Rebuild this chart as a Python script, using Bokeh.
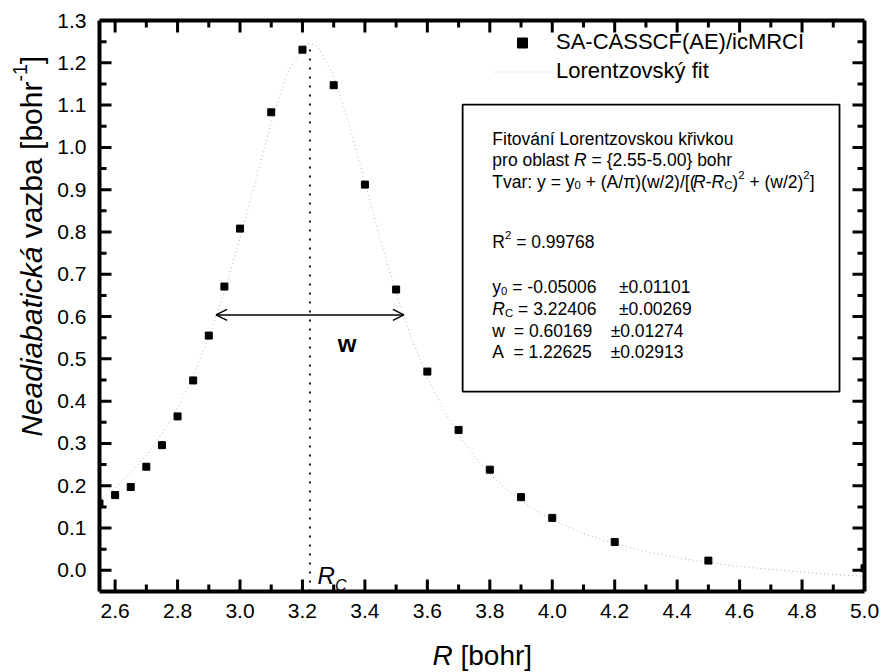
from math import pi
from bokeh.plotting import figure
from bokeh.layouts import row, column
from bokeh.models import (Range1d, FixedTicker, NumeralTickFormatter, LinearAxis, Label,
                          Legend, LegendItem, Arrow, OpenHead, BoxAnnotation)
from bokeh.embed import file_html
from bokeh.resources import INLINE

# ---------------- data ----------------
R_points = [2.55, 2.60, 2.65, 2.70, 2.75, 2.80, 2.85, 2.90, 2.95, 3.00, 3.10, 3.20,
            3.30, 3.40, 3.50, 3.60, 3.70, 3.80, 3.90, 4.00, 4.20, 4.50, 5.00]
nac_points = [0.158, 0.178, 0.197, 0.245, 0.296, 0.364, 0.449, 0.555, 0.671, 0.808, 1.083, 1.231,
              1.147, 0.912, 0.664, 0.470, 0.332, 0.238, 0.173, 0.124, 0.067, 0.023, 0.005]

R_fit = [2.55, 2.60, 2.65, 2.70, 2.75, 2.80, 2.85, 2.90, 2.95, 3.00, 3.05, 3.10, 3.15, 3.20,
         3.224, 3.25, 3.30, 3.35, 3.40, 3.45, 3.50, 3.55, 3.60, 3.65, 3.70, 3.75, 3.80, 3.85,
         3.90, 3.95, 4.00, 4.10, 4.20, 4.30, 4.40, 4.50, 4.60, 4.70, 4.80, 4.90, 5.00]
nac_fit = [0.166, 0.195, 0.230, 0.272, 0.323, 0.384, 0.460, 0.551, 0.659, 0.785, 0.922, 1.059,
           1.173, 1.239, 1.247, 1.238, 1.170, 1.054, 0.917, 0.780, 0.655, 0.547, 0.457, 0.382,
           0.320, 0.270, 0.228, 0.193, 0.165, 0.140, 0.120, 0.087, 0.063, 0.044, 0.030, 0.018,
           0.009, 0.002, -0.004, -0.010, -0.014]

x_ticks = [2.6, 2.8, 3.0, 3.2, 3.4, 3.6, 3.8, 4.0, 4.2, 4.4, 4.6, 4.8, 5.0]
x_minor = [2.7, 2.9, 3.1, 3.3, 3.5, 3.7, 3.9, 4.1, 4.3, 4.5, 4.7, 4.9]
y_ticks = [0.0, 0.1, 0.2, 0.3, 0.4, 0.5, 0.6, 0.7, 0.8, 0.9, 1.0, 1.1, 1.2, 1.3]
y_minor = [0.05, 0.15, 0.25, 0.35, 0.45, 0.55, 0.65, 0.75, 0.85, 0.95, 1.05, 1.15, 1.25]

series_name = "SA-CASSCF(AE)/icMRCI"
fit_name = "Lorentzovský fit"

rc = 3.22406          # R_C of the fit
fwhm = 0.60169        # w of the fit
rc_line_top = 1.24    # top of the dotted R_C line
arrow_y = 0.604       # height of the w arrow

fit_r2 = "0.99768"
fit_y0, fit_y0_err = "-0.05006", "±0.01101"
fit_rc, fit_rc_err = "3.22406", "±0.00269"
fit_w, fit_w_err = "0.60169", "±0.01274"
fit_A, fit_A_err = "1.22625", "±0.02913"

# ---------------- layout helpers ----------------
FONT = "Liberation Sans"
CW = {' ': 278, '!': 278, '(': 333, ')': 333, '+': 584, ',': 278, '-': 333, '.': 278, '/': 278,
      ':': 278, '=': 584, '[': 278, ']': 278, '{': 334, '}': 334, '±': 549, 'π': 550,
      'A': 667, 'C': 722, 'E': 667, 'F': 611, 'I': 278, 'L': 556, 'M': 833, 'N': 722, 'R': 722,
      'S': 667, 'T': 611, 'a': 556, 'b': 556, 'c': 500, 'd': 556, 'e': 556, 'f': 278, 'h': 556,
      'i': 222, 'k': 500, 'l': 222, 'n': 556, 'o': 556, 'p': 556, 'r': 333, 's': 500, 't': 278,
      'u': 556, 'v': 500, 'w': 722, 'y': 500, 'z': 500, 'á': 556, 'í': 278, 'ř': 333, 'ý': 500}
for d in "0123456789":
    CW[d] = 556


def tw(s, fs):
    return sum(CW.get(c, 556) for c in s) * fs / 1000.0


def put(p, x, y, xo, yo, text, fs, style="normal", angle=0.0, align="left", baseline="alphabetic"):
    p.add_layout(Label(x=x, y=y, x_offset=xo, y_offset=yo, text=text, text_font=FONT,
                       text_font_size=f"{fs:.1f}px", text_font_style=style, text_color="black",
                       text_align=align, text_baseline=baseline, angle=angle))


def put_runs(p, x, y, xo, yo, runs, fs, vertical=False):
    off = 0.0
    for txt, style, kind in runs:
        if kind == "gap":
            off += txt
            continue
        size, shift = fs, 0.0
        if kind == "sub":
            size, shift = fs * 0.65, -0.22 * fs
        elif kind == "sup":
            size, shift = fs * 0.65, 0.40 * fs
        lead = len(txt) - len(txt.lstrip(" "))
        core = txt.strip(" ")
        lead_w = tw(" " * lead, size)
        if core:
            if vertical:
                put(p, x, y, xo - shift, yo + off + lead_w, core, size, style, angle=pi / 2)
            else:
                put(p, x, y, xo + off + lead_w, yo + shift, core, size, style)
        off += tw(txt, size)


# ---------------- main figure ----------------
X0, X1, Y0, Y1 = 2.55, 5.0, -0.05, 1.3
FRAME_W, FRAME_H = 765, 571
YFIG_W = 53
BL, BR, BT, BB = 46, 21, 20, 40
MAIN_H = BT + FRAME_H + BB
TOTAL_W = YFIG_W + BL + FRAME_W + BR
TOTAL_H = 672

p = figure(frame_width=FRAME_W, frame_height=FRAME_H, x_range=Range1d(X0, X1),
           y_range=Range1d(Y0, Y1), output_backend="svg", toolbar_location=None,
           min_border_left=BL, min_border_right=BR, min_border_top=BT, min_border_bottom=BB)
p.grid.visible = False
p.outline_line_color = None
p.background_fill_color = "white"
p.border_fill_color = "white"


def style_axis(ax, ticks, show):
    ax.ticker = FixedTicker(ticks=ticks if show else [], minor_ticks=[])
    ax.formatter = NumeralTickFormatter(format="0.0")
    ax.axis_line_width = 4
    ax.axis_line_color = "black"
    ax.major_tick_in = 0
    ax.major_tick_out = 0
    ax.minor_tick_in = 0
    ax.minor_tick_out = 0
    ax.major_tick_line_color = None
    ax.minor_tick_line_color = None
    ax.major_label_text_font = FONT
    ax.major_label_text_color = "black"
    ax.major_label_text_font_size = "21px"


style_axis(p.xaxis[0], x_ticks, True)
style_axis(p.yaxis[0], y_ticks, True)
p.xaxis[0].major_label_standoff = 12
p.yaxis[0].major_label_standoff = 13
top_ax = LinearAxis()
right_ax = LinearAxis()
style_axis(top_ax, x_ticks, False)
style_axis(right_ax, y_ticks, False)
p.add_layout(top_ax, "above")
p.add_layout(right_ax, "right")

# inward tick marks on all four sides
ppx = FRAME_W / (X1 - X0)
ppy = FRAME_H / (Y1 - Y0)
TICK_W = 3
for xs, L in ((x_ticks, 12), (x_minor, 7)):
    n = len(xs)
    p.segment(x0=xs, y0=[Y0] * n, x1=xs, y1=[Y0 + L / ppy] * n, line_color="black",
              line_width=TICK_W)
    p.segment(x0=xs, y0=[Y1] * n, x1=xs, y1=[Y1 - L / ppy] * n, line_color="black",
              line_width=TICK_W)
for ys, L in ((y_ticks, 12), (y_minor, 7)):
    n = len(ys)
    p.segment(x0=[X0] * n, y0=ys, x1=[X0 + L / ppx] * n, y1=ys, line_color="black",
              line_width=TICK_W)
    p.segment(x0=[X1] * n, y0=ys, x1=[X1 - L / ppx] * n, y1=ys, line_color="black",
              line_width=TICK_W)

# text box
box_left, box_right, box_top, box_bottom = 3.713, 4.920, 1.1013, 0.4224
p.add_layout(BoxAnnotation(left=box_left, right=box_right, top=box_top, bottom=box_bottom,
                           fill_color="white", fill_alpha=1.0, line_color="black",
                           line_alpha=1.0, line_width=1.8))

# fit curve and points
fit_r = p.line(R_fit, nac_fit, line_color="#b4b4b4", line_width=1.0, line_dash="1 3")
pts_r = p.scatter(R_points, nac_points, marker="square", size=7, color="black")

# R_C dotted line
p.segment(x0=[rc], y0=[Y0], x1=[rc], y1=[rc_line_top], line_color="black", line_width=1.8,
          line_dash="2 7")

# w arrow
p.add_layout(Arrow(start=OpenHead(size=11, line_width=1.5, line_color="black"),
                   end=OpenHead(size=11, line_width=1.5, line_color="black"),
                   x_start=rc - fwhm / 2, y_start=arrow_y, x_end=rc + fwhm / 2, y_end=arrow_y,
                   line_width=1.5, line_color="black"))
put(p, 3.343, 0.537, 0, 0, "w", 24, "bold", align="center")

# R_C label
put(p, 3.248, -0.0128, 0, 0, "R", 24, "italic")
put(p, 3.248, -0.0128, 17.5, -10, "C", 16, "italic")

# legend
legend = Legend(items=[LegendItem(label=series_name, renderers=[pts_r]),
                       LegendItem(label=fit_name, renderers=[fit_r])],
                location=(394, 507), orientation="vertical", padding=0, margin=0, spacing=3,
                glyph_width=58, glyph_height=25, label_height=25, label_standoff=5,
                label_text_font=FONT, label_text_font_size="22px", label_text_color="black",
                border_line_color=None, background_fill_alpha=0)
p.add_layout(legend)

# box text
FS = 17.5
XO = 29.7
lines = [
    (34.3, [("Fitování Lorentzovskou křivkou", "normal", "")]),
    (55.5, [("pro oblast ", "normal", ""), ("R", "italic", ""), (" = {2.55-5.00} bohr", "normal", "")]),
    (77.0, [("Tvar: y = y", "normal", ""), ("0", "normal", "sub"), (" + (A/π)(w/2)/[(", "normal", ""),
            ("R", "italic", ""), ("-", "normal", ""), ("R", "italic", ""), ("C", "normal", "sub"),
            (")", "normal", ""), ("2", "normal", "sup"), (" + (w/2)", "normal", ""),
            ("2", "normal", "sup"), ("]", "normal", "")]),
    (137.7, [("R", "normal", ""), ("2", "normal", "sup"), (" = " + fit_r2, "normal", "")]),
    (182.7, [("y", "normal", ""), ("0", "normal", "sub"), (" = " + fit_y0, "normal", "")]),
    (204.3, [("R", "italic", ""), ("C", "normal", "sub"), (" = " + fit_rc, "normal", "")]),
    (226.7, [("w", "normal", ""), (4.0, "", "gap"), (" = " + fit_w, "normal", "")]),
    (247.7, [("A", "normal", ""), (4.5, "", "gap"), (" = " + fit_A, "normal", "")]),
]
for dy, runs in lines:
    put_runs(p, box_left, box_top, XO, -dy, runs, FS)
errs = [(182.7, fit_y0_err, 156.3), (204.3, fit_rc_err, 156.3), (226.7, fit_w_err, 148.0),
        (247.7, fit_A_err, 148.0)]
for dy, txt, xo in errs:
    put(p, box_left, box_top, xo, -dy, txt, FS)


# ---------------- axis-title strips ----------------
def strip(w, h):
    f = figure(width=w, height=h, x_range=Range1d(0, w), y_range=Range1d(0, h),
               output_backend="svg", toolbar_location=None, min_border=0,
               x_axis_location=None, y_axis_location=None)
    f.grid.visible = False
    f.outline_line_color = None
    f.border_fill_color = "white"
    f.background_fill_color = "white"
    return f


yfig = strip(YFIG_W, MAIN_H)
put_runs(yfig, 31, 171, 0, 0, [("Neadiabatická", "italic", ""), (" vazba [bohr", "normal", ""),
                               ("-1", "normal", "sup"), ("]", "normal", "")], 30, vertical=True)

XFIG_H = TOTAL_H - MAIN_H
xfig = strip(TOTAL_W, XFIG_H)
put_runs(xfig, 432, 17, 0, 0, [("R", "italic", ""), (" [bohr]", "normal", "")], 28)

layout = column(row(yfig, p), xfig)
open("out.html", "w", encoding="utf-8").write(file_html(layout, INLINE))
